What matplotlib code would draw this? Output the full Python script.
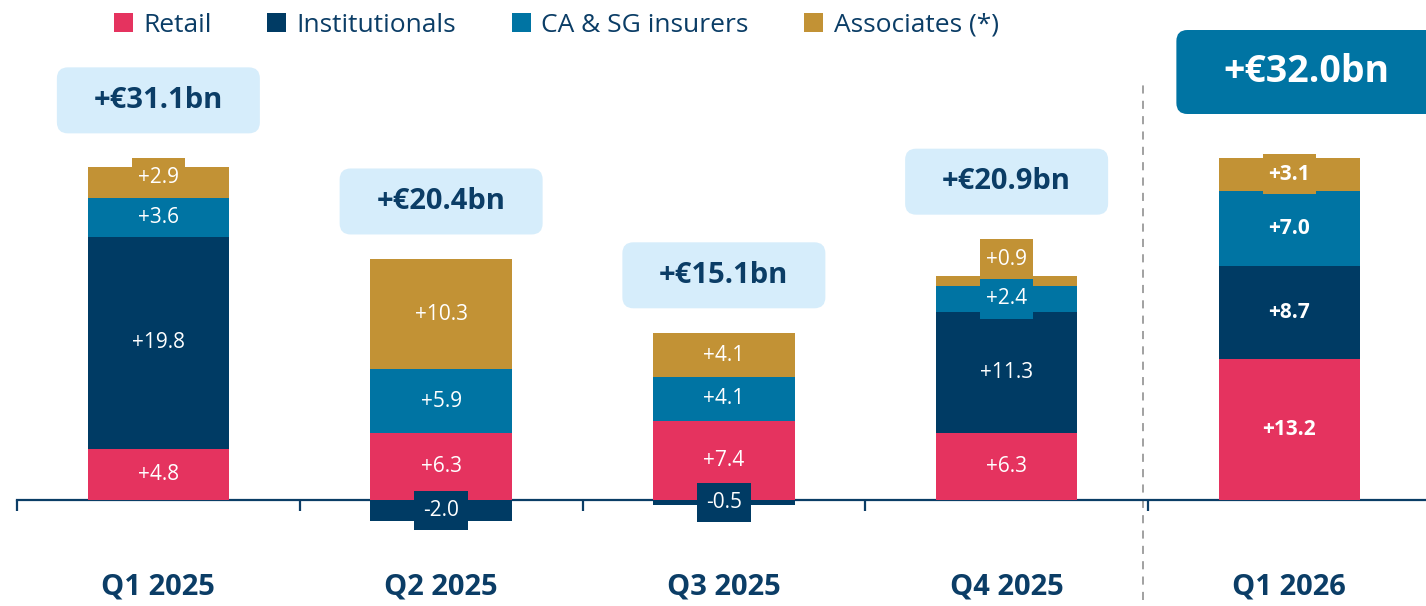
import matplotlib
matplotlib.use('Agg')
import matplotlib.pyplot as plt
from matplotlib.patches import Patch, Rectangle, FancyBboxPatch
from matplotlib.transforms import ScaledTranslation

# data (EUR bn)
quarters = ['Q1 2025', 'Q2 2025', 'Q3 2025', 'Q4 2025', 'Q1 2026']
series_names = ['Retail', 'Institutionals', 'CA & SG insurers', 'Associates (*)']
retail = [4.8, 6.3, 7.4, 6.3, 13.2]
institutionals = [19.8, -2.0, -0.5, 11.3, 8.7]
insurers = [3.6, 5.9, 4.1, 2.4, 7.0]
associates = [2.9, 10.3, 4.1, 0.9, 3.1]
totals = [31.1, 20.4, 15.1, 20.9, 32.0]

colors = ['#E5335F', '#003B64', '#0074A3', '#C29235']
navy = '#0B3D66'
light_box = '#D6EDFB'
dark_box = '#0074A3'

plt.rcParams['font.family'] = ['Open Sans', 'DejaVu Sans']

fig = plt.figure(figsize=(14.26, 6.06), dpi=100)
# axis placed so that x boundaries fall on pixel 17 + k*282.75, y=0 on pixel 500
ax = fig.add_axes([17 / 1426, 0, 1413.75 / 1426, 1])
ax.set_xlim(-0.5, 4.5)
ax.set_ylim(-106 / 10.7, 500 / 10.7)

series = [retail, institutionals, insurers, associates]
bar_w = 0.5
lab_w = 0.19
lab_h = 3.7

label_tops = []
for i, q in enumerate(quarters):
    pos_base = 0.0
    neg_base = 0.0
    prev_top = None
    highlight = (i == len(quarters) - 1)
    for s, vals in enumerate(series):
        v = vals[i]
        if v >= 0:
            bottom = pos_base
            pos_base += v
        else:
            bottom = neg_base + v
            neg_base += v
        ax.bar(i, abs(v), bottom=bottom, width=bar_w, color=colors[s],
               linewidth=0, zorder=2)
        yc = bottom + abs(v) / 2
        # small segments: push the label above the previous one
        if v >= 0 and prev_top is not None and yc - lab_h / 2 < prev_top:
            yc = prev_top + lab_h / 2
        if v >= 0:
            prev_top = yc + lab_h / 2
        ax.add_patch(Rectangle((i - lab_w / 2, yc - lab_h / 2), lab_w, lab_h,
                               facecolor=colors[s], linewidth=0, zorder=3))
        ax.text(i, yc, f'{v:+.1f}', ha='center', va='center', color='white',
                fontsize=15, fontweight='bold' if highlight else 'normal',
                zorder=4)
    label_tops.append(max(pos_base, prev_top))

# total boxes
for i, t in enumerate(totals):
    highlight = (i == len(quarters) - 1)
    if highlight:
        w, h, dx, off = 2.6, 0.84, 0.17, 7.7
        fc, tc, fs = dark_box, 'white', 27
    else:
        w, h, dx, off = 2.03, 0.66, 0.0, 5.4
        fc, tc, fs = light_box, navy, 21
    y = label_tops[i] + off
    tr = fig.dpi_scale_trans + ScaledTranslation(i, y, ax.transData)
    box = FancyBboxPatch((-w / 2 + dx, -h / 2), w, h,
                         boxstyle='round,pad=0,rounding_size=0.11',
                         facecolor=fc, edgecolor='none', transform=tr,
                         zorder=5, clip_on=False)
    ax.add_patch(box)
    ax.text(dx, 0, f'+€{t:.1f}bn', transform=tr, ha='center', va='center',
            color=tc, fontsize=fs, fontweight='bold', zorder=6)

# category labels
for i, q in enumerate(quarters):
    ax.text(i, -8.1, q, ha='center', va='center', color=navy, fontsize=21,
            fontweight='bold')

# dashed separator before the latest quarter
ax.plot([3.482, 3.482], [-9.3, 39.0], color='#9A9A9A', lw=1.3,
        linestyle=(0, (4.5, 4)), zorder=1)

# axis styling
for side in ['top', 'right', 'left']:
    ax.spines[side].set_visible(False)
ax.spines['bottom'].set_position(('data', 0))
ax.spines['bottom'].set_color(navy)
ax.spines['bottom'].set_linewidth(1.6)
ax.spines['bottom'].set_zorder(1)
ax.set_xticks([-0.5, 0.5, 1.5, 2.5, 3.5])
ax.set_xticklabels([])
ax.tick_params(axis='x', direction='out', length=8, width=1.6, color=navy)
ax.set_yticks([])
ax.patch.set_alpha(0)

handles = [Patch(facecolor=c, edgecolor='none') for c in colors]
fig.legend(handles, series_names, loc='upper center', bbox_to_anchor=(0.39, 1.018),
           ncol=4, frameon=False, fontsize=19, labelcolor=navy,
           handlelength=0.72, handleheight=0.72, handletextpad=0.4,
           columnspacing=2.1)

fig.savefig('out.png', dpi=100)
